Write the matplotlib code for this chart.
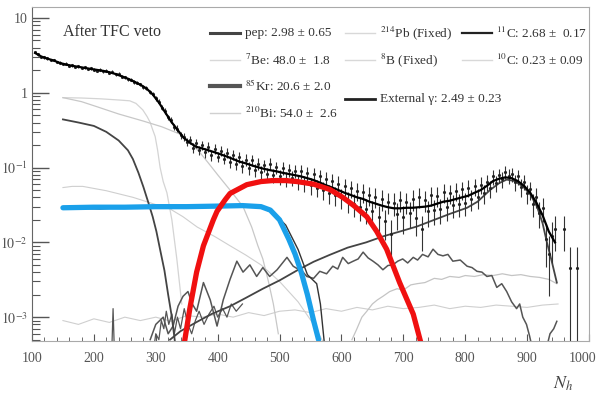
import numpy as np
import matplotlib.pyplot as plt
from matplotlib.lines import Line2D
from matplotlib.ticker import MultipleLocator, FixedLocator, NullFormatter

plt.rcParams['font.family'] = ['Liberation Serif', 'DejaVu Serif']
plt.rcParams['mathtext.fontset'] = 'stix'

# data points (bin centres every 5 hits)
n_data = np.arange(105, 985, 5)
y_data = [
    3.55, 3.25, 3.02, 2.97, 2.88, 2.76, 2.72, 2.57, 2.52, 2.41,
    2.45, 2.31, 2.33, 2.21, 2.26, 2.15, 2.19, 2.08, 2.11, 2.04,
    1.98, 2.03, 1.94, 1.97, 1.85, 1.90, 1.76, 1.79, 1.64, 1.62,
    1.51, 1.49, 1.39, 1.37, 1.30, 1.19, 1.16, 1.03, 0.97, 0.84,
    0.76, 0.63, 0.57, 0.47, 0.43, 0.35, 0.33, 0.27, 0.26, 0.22,
    0.235, 0.185, 0.21, 0.17, 0.20, 0.16, 0.19, 0.145, 0.178, 0.14,
    0.168, 0.132, 0.158, 0.12, 0.148, 0.112, 0.138, 0.105, 0.128, 0.098,
    0.126, 0.094, 0.112, 0.086, 0.108, 0.082, 0.112, 0.079, 0.101, 0.076,
    0.099, 0.071, 0.094, 0.073, 0.091, 0.065, 0.089, 0.062, 0.084, 0.058,
    0.081, 0.054, 0.076, 0.050, 0.071, 0.046, 0.066, 0.043, 0.061, 0.040,
    0.056, 0.036, 0.053, 0.033, 0.049, 0.030, 0.047, 0.028, 0.043, 0.026,
    0.041, 0.022, 0.038, 0.019, 0.035, 0.013, 0.034, 0.024, 0.037, 0.022,
    0.035, 0.025, 0.038, 0.021, 0.041, 0.015, 0.037, 0.026, 0.043, 0.027,
    0.042, 0.028, 0.047, 0.030, 0.045, 0.032, 0.049, 0.033, 0.051, 0.034,
    0.054, 0.038, 0.056, 0.040, 0.059, 0.046, 0.064, 0.053, 0.076, 0.062,
    0.079, 0.070, 0.088, 0.078, 0.081, 0.064, 0.076, 0.055, 0.065, 0.045,
    0.051, 0.033, 0.041, 0.025, 0.029, 0.011, 0.007, 0.012, 0.015, np.nan,
    np.nan, 0.015, np.nan, 0.0045, np.nan, 0.0045,
]
exposure_k = 0.0037  # Poisson-like error scale

# total fit
n_fit = np.arange(105, 955, 10)
y_fit = [
    3.4, 3.05, 2.85, 2.7, 2.5, 2.38, 2.29, 2.22, 2.15, 2.08,
    2.02, 1.96, 1.88, 1.78, 1.66, 1.54, 1.41, 1.28, 1.14, 0.95,
    0.74, 0.55, 0.41, 0.32, 0.25, 0.215, 0.19, 0.18, 0.17, 0.16,
    0.15, 0.14, 0.13, 0.12, 0.114, 0.107, 0.101, 0.096, 0.092, 0.089,
    0.085, 0.082, 0.079, 0.076, 0.072, 0.068, 0.063, 0.058, 0.054, 0.050,
    0.046, 0.043, 0.040, 0.038, 0.035, 0.033, 0.031, 0.0295, 0.0285, 0.0285,
    0.029, 0.029, 0.0295, 0.030, 0.031, 0.033, 0.035, 0.036, 0.038, 0.040,
    0.042, 0.046, 0.050, 0.057, 0.066, 0.071, 0.074, 0.072, 0.066, 0.057,
    0.046, 0.034, 0.023, 0.014, 0.010,
]

# components
kr_n = [150, 175, 200, 220, 240, 255, 263, 272, 280, 288, 295, 301, 307, 314, 320, 326, 332]
kr_v = [0.44, 0.40, 0.36, 0.30, 0.23, 0.17, 0.13, 0.085, 0.055, 0.034, 0.022, 0.014,
        0.008, 0.0042, 0.002, 0.001, 0.0004]

be7_n = [150, 180, 210, 240, 258, 268, 279, 286, 291, 295, 299, 303, 307, 312, 318, 326, 334, 342]
be7_v = [0.86, 0.85, 0.83, 0.80, 0.78, 0.72, 0.59, 0.48, 0.40, 0.32, 0.26, 0.17, 0.10,
         0.065, 0.046, 0.020, 0.006, 0.0015]

bi_n = [150, 180, 205, 240, 279, 310, 339, 355, 371, 385, 400, 420, 441, 455, 465, 473, 482, 490, 498]
bi_v = [0.86, 0.76, 0.65, 0.52, 0.42, 0.35, 0.28, 0.22, 0.16, 0.115, 0.08, 0.05, 0.03,
        0.016, 0.009, 0.006, 0.003, 0.0015, 0.0006]

pb_n = [150, 165, 182, 220, 263, 300, 323, 344, 367, 395, 420, 445, 470, 500, 530, 555, 575]
pb_v = [0.054, 0.056, 0.056, 0.049, 0.040, 0.032, 0.028, 0.022, 0.016, 0.012, 0.009,
        0.0068, 0.005, 0.003, 0.0016, 0.0008, 0.0004]

pep_n = [150, 200, 250, 300, 350, 400, 440, 470, 485, 500, 515, 525, 535, 545, 555, 563]
pep_v = [0.029, 0.0295, 0.0295, 0.030, 0.030, 0.0305, 0.031, 0.030, 0.027, 0.020,
         0.011, 0.007, 0.004, 0.002, 0.0009, 0.0005]

pep_hist_n = [150, 180, 210, 240, 270, 300, 330, 360, 390, 420, 450, 470, 490, 510, 530,
              545, 560, 566, 573]
pep_hist_v = [0.028, 0.0285, 0.028, 0.029, 0.0285, 0.029, 0.0288, 0.0292, 0.0295, 0.030,
              0.0298, 0.029, 0.025, 0.017, 0.008, 0.0037, 0.0028, 0.0015, 0.0004]

c11_n = [347, 355, 366, 377, 393, 399, 412, 420, 447, 470, 489, 510, 528, 555, 581, 602,
         620, 641, 657, 673, 694, 716, 727]
c11_v = [0.0005, 0.0013, 0.004, 0.009, 0.02, 0.026, 0.037, 0.045, 0.059, 0.065, 0.067,
         0.067, 0.065, 0.060, 0.051, 0.040, 0.031, 0.022, 0.014, 0.0081, 0.0029, 0.0011,
         0.0005]

ext_n = [323, 340, 366, 390, 420, 445, 473, 500, 528, 555, 581, 610, 640, 667, 695, 722,
         750, 775, 803, 820, 840, 855, 867, 880, 893, 905, 916, 925, 932, 940, 948]
ext_v = [0.0005, 0.00065, 0.00086, 0.0011, 0.0014, 0.0018, 0.0024, 0.0031, 0.0042, 0.0055,
         0.0068, 0.0085, 0.010, 0.012, 0.014, 0.0163, 0.020, 0.024, 0.029, 0.035, 0.050,
         0.062, 0.069, 0.066, 0.056, 0.044, 0.030, 0.018, 0.010, 0.0055, 0.0029]

jag_n = [291, 300, 312, 320, 328, 336, 344, 352, 359, 366, 377, 388, 399, 409, 420, 431,
         441, 452, 463, 473, 484, 496, 512, 522, 538, 544, 555, 565, 576, 586, 594, 602,
         611, 619, 627, 635, 643, 651, 659, 667, 675, 683, 691, 699, 707, 716, 723, 731,
         740, 748, 756, 764, 772, 780, 792, 803, 811, 819, 827, 835, 843, 851, 859, 867,
         875, 883, 888, 893, 899, 904, 916, 928, 937, 943, 948]
jag_v = [5e-4, 8e-4, 1.0e-3, 6e-4, 7.6e-4, 1.4e-3, 1.9e-3, 2.2e-3, 1.5e-3, 1.2e-3,
         2.9e-3, 1.7e-3, 7.6e-4, 1.7e-3, 3.2e-3, 5.6e-3, 4.0e-3, 5.0e-3, 3.5e-3, 4.6e-3,
         3.5e-3, 4.3e-3, 6.3e-3, 4.8e-3, 4.0e-3, 3.5e-3, 3.3e-3, 4.1e-3, 3.8e-3, 4.8e-3,
         4.4e-3, 6.3e-3, 5.2e-3, 5.6e-3, 6.0e-3, 7.4e-3, 6.2e-3, 5.6e-3, 5.0e-3, 4.3e-3,
         4.9e-3, 5.0e-3, 5.6e-3, 6.0e-3, 5.3e-3, 6.3e-3, 5.8e-3, 6.9e-3, 6.4e-3, 8.1e-3,
         6.9e-3, 6.6e-3, 6.9e-3, 5.6e-3, 5.8e-3, 4.8e-3, 4.6e-3, 4.1e-3, 4.0e-3, 3.5e-3,
         3.6e-3, 2.5e-3, 2.8e-3, 2.2e-3, 1.6e-3, 1.3e-3, 1.5e-3, 1.0e-3, 8e-4, 5.6e-4,
         2e-4, 3e-4, 6e-4, 7e-4, 8.8e-4]

noise_n = [150, 228, 231, 234, 295, 300, 305, 309, 313, 317, 321, 326, 330, 335, 340, 346,
           352, 358, 364, 370, 378, 386, 394, 400, 408, 415, 422, 430, 440]
noise_v = [2e-4, 2e-4, 1.3e-3, 2e-4, 3e-4, 6e-4, 5e-4, 9e-4, 7e-4, 1.2e-3, 8e-4, 1.1e-3,
           6e-4, 1.0e-3, 7e-4, 1.3e-3, 8e-4, 6e-4, 9e-4, 1.2e-3, 8e-4, 1.1e-3, 1.4e-3,
           1.0e-3, 1.3e-3, 1.0e-3, 1.5e-3, 1.2e-3, 1.5e-3]

b8_n = [150, 175, 200, 225, 250, 275, 300, 325, 350, 375, 400, 425, 450, 475, 500, 525,
        550, 575, 600, 625, 650, 675, 700, 725, 750, 775, 800, 825, 850, 875, 900, 925, 950]
b8_v = [9e-4, 8e-4, 9.5e-4, 8.5e-4, 1.0e-3, 9e-4, 1.0e-3, 8.8e-4, 1.05e-3, 1.0e-3,
        1.1e-3, 1.0e-3, 1.15e-3, 1.05e-3, 1.2e-3, 1.25e-3, 1.15e-3, 1.3e-3, 1.2e-3,
        1.35e-3, 1.25e-3, 1.4e-3, 1.3e-3, 1.35e-3, 1.45e-3, 1.3e-3, 1.4e-3, 1.35e-3,
        1.45e-3, 1.4e-3, 1.35e-3, 1.45e-3, 1.5e-3]

c10_n = [617, 625, 633, 641, 650, 658, 667, 678, 690, 700, 712, 722, 735, 750, 762, 775,
         790, 800, 815, 829, 845, 860, 875, 890, 905, 920, 935, 948]
c10_v = [5e-4, 7e-4, 1.0e-3, 1.2e-3, 1.5e-3, 1.7e-3, 1.9e-3, 2.2e-3, 2.4e-3, 2.3e-3,
         2.7e-3, 2.8e-3, 2.9e-3, 3.3e-3, 3.2e-3, 3.5e-3, 3.4e-3, 3.6e-3, 3.5e-3, 3.7e-3,
         3.6e-3, 3.8e-3, 3.6e-3, 3.7e-3, 3.5e-3, 3.4e-3, 3.2e-3, 2.8e-3]

x_ticks = [100, 200, 300, 400, 500, 600, 700, 800, 900, 1000]
x_tick_labels = ["100", "200", "300", "400", "500", "600", "700", "800", "900", "1000"]

legend_labels = [
    "pep: 2.98 ± 0.65",
    r"$^{7}$Be: 48.0 ±  1.8",
    r"$^{85}$Kr: 20.6 ± 2.0",
    r"$^{210}$Bi: 54.0 ±  2.6",
    r"$^{214}$Pb (Fixed)",
    r"$^{8}$B (Fixed)",
    "External γ: 2.49 ± 0.23",
    r"$^{11}$C: 2.68 ±  0.17",
    r"$^{10}$C: 0.23 ± 0.09",
]

# figure
fig = plt.figure(figsize=(6.01, 4.04), dpi=100)
ax = fig.add_axes([32 / 601, 63 / 404, 557 / 601, 334 / 404])

light = '#cfcfcf'
ax.plot(b8_n, b8_v, color=light, lw=0.8)
ax.plot(c10_n, c10_v, color='#c4c4c4', lw=0.9)
ax.plot(pb_n, pb_v, color=light, lw=0.8)
ax.plot(be7_n, be7_v, color='#d4d4d4', lw=0.9)
ax.plot(bi_n, bi_v, color='#c8c8c8', lw=0.9)
ax.plot(noise_n, noise_v, color='#555555', lw=0.9)
ax.plot(jag_n, jag_v, color='#555555', lw=1.1)
ax.plot(ext_n, ext_v, color='#444444', lw=1.3)
ax.plot(kr_n, kr_v, color='#444444', lw=1.3)
ax.plot(pep_hist_n, pep_hist_v, color='#333333', lw=1.0)

y_arr = np.array(y_data)
err = np.sqrt(exposure_k * y_arr)
lower = np.minimum(err, y_arr - 1e-5)
ax.errorbar(n_data, y_arr, yerr=[lower, err], xerr=1.5, fmt='.', ms=2.5,
            color='#222222', ecolor='#333333', elinewidth=0.8, capsize=0, zorder=4)
ax.plot(n_fit, y_fit, color='black', lw=1.6, zorder=5)

ax.plot(pep_n, pep_v, color='#1aa0ea', lw=3.8, solid_capstyle='round', zorder=6)
ax.plot(c11_n, c11_v, color='#f01010', lw=3.8, zorder=6)

ax.set_yscale('log')
ax.set_xlim(100, 1000)
ax.set_ylim(4.8e-4, 14)

# x tick labels drawn as text so the last one can sit inside the picture
ax.set_xticks(x_ticks)
ax.set_xticklabels([])
ax.xaxis.set_minor_locator(MultipleLocator(20))
for xt, lab in zip(x_ticks, x_tick_labels):
    ax.annotate(lab, xy=(xt, 0), xycoords=('data', 'axes fraction'),
                xytext=(-5 if xt == 1000 else 0, -8), textcoords='offset points',
                ha='center', va='top', fontsize=10, color='#555555')

ax.yaxis.set_major_locator(FixedLocator([1e-3, 1e-2, 1e-1, 1, 10]))
ax.set_yticklabels([r"$10^{-3}$", r"$10^{-2}$", r"$10^{-1}$", "1", "10"])
ax.yaxis.set_minor_formatter(NullFormatter())
ax.tick_params(axis='both', which='both', direction='in', colors='#555555',
               labelcolor='#555555', labelsize=10, top=False, right=False)
ax.tick_params(axis='y', which='major', length=12, width=1, pad=3)
ax.tick_params(axis='y', which='minor', length=6, width=0.8)
ax.tick_params(axis='x', which='major', length=5, width=0.8)
ax.tick_params(axis='x', which='minor', length=3, width=0.6)
for side in ['top', 'right']:
    ax.spines[side].set_color('#aaaaaa')
    ax.spines[side].set_linewidth(0.8)
ax.spines['left'].set_color('#666666')
ax.spines['bottom'].set_color('#aaaaaa')

fig.text(563 / 601, 1 - 384 / 404, r"$N_h$", ha='center', va='center',
         fontsize=13, color='#444444')
fig.text(63 / 601, 1 - 32 / 404, "After TFC veto", ha='left', va='center',
         fontsize=11.5, color='#333333')

# legend entries: (line x start px, text x px, y px, colour, width)
legend_pos = [
    (210, 245, 33, '#444444', 2.2),
    (210, 245, 60, '#d8d8d8', 1.0),
    (210, 245, 86, '#555555', 3.0),
    (210, 245, 113, '#d0d0d0', 1.0),
    (345, 380, 33, '#d8d8d8', 1.0),
    (345, 380, 60, '#d8d8d8', 1.0),
    (345, 380, 99, '#222222', 2.0),
    (462, 496, 33, '#222222', 1.6),
    (462, 496, 60, '#d8d8d8', 1.0),
]
for (lx, tx, ty, col, lw), lab in zip(legend_pos, legend_labels):
    fig.add_artist(Line2D([lx / 601, (lx + 30) / 601], [1 - ty / 404, 1 - ty / 404],
                          color=col, lw=lw, transform=fig.transFigure))
    fig.text(tx / 601, 1 - ty / 404, lab, ha='left', va='center', fontsize=9.5,
             color='#333333')

fig.savefig('out.png', dpi=100)
